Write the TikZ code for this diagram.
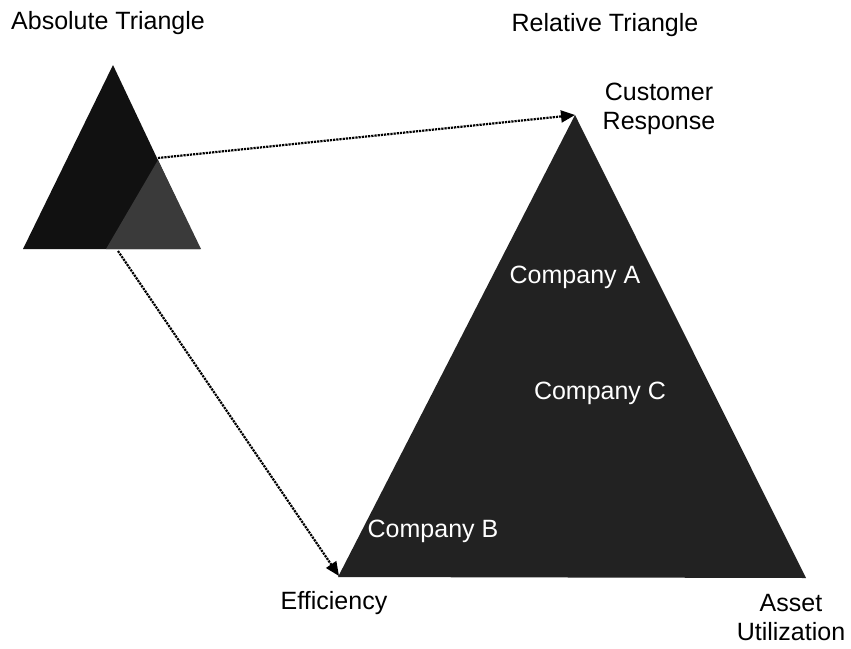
\documentclass[tikz,border=0pt]{standalone}
\usepackage{fontspec}
\setmainfont{Liberation Sans}
\usetikzlibrary{arrows.meta}
\definecolor{abscol}{HTML}{111111}
\definecolor{subcol}{HTML}{3A3A3A}
\definecolor{relcol}{HTML}{222222}
\begin{document}
\begin{tikzpicture}[x=1pt,y=-1pt,
  lbl/.style={font=\fontsize{25}{29}\selectfont, text=black, inner sep=0pt},
  inlbl/.style={font=\fontsize{25}{29}\selectfont, text=white, inner sep=0pt},
  conn/.style={densely dotted, line width=2.2pt, -{Triangle[length=14pt,width=12pt]}}]
\useasboundingbox (0,0) rectangle (851,648);
% absolute triangle
\fill[abscol] (113,65) -- (23,249) -- (200,249) -- cycle;
\fill[subcol] (158,160) -- (106,249) -- (201,249) -- cycle;
\coordinate (absA) at (158,158);
\coordinate (absB) at (118,251);
% relative triangle
\fill[relcol] (575,115) -- (338,577) -- (806,578) -- cycle;
\coordinate (relTop) at (575,115);
\coordinate (relLeft) at (339,576);
% connectors
\draw[conn] (absA) -- (relTop);
\draw[conn] (absB) -- (relLeft);
% labels
\node[lbl] (t1) at (108,23) {Absolute Triangle};
\node[lbl] (t2) at (605,25) {Relative Triangle};
\node[lbl, align=center] (cr) at (659,109) {Customer\\Response};
\node[lbl] (eff) at (334,603) {Efficiency};
\node[lbl, align=center] (au) at (791,618) {Asset\\Utilization};
\node[inlbl] (ca) at (575,277) {Company A};
\node[inlbl] (cc) at (600,393) {Company C};
\node[inlbl] (cb) at (433,531) {Company B};
\end{tikzpicture}
\end{document}
